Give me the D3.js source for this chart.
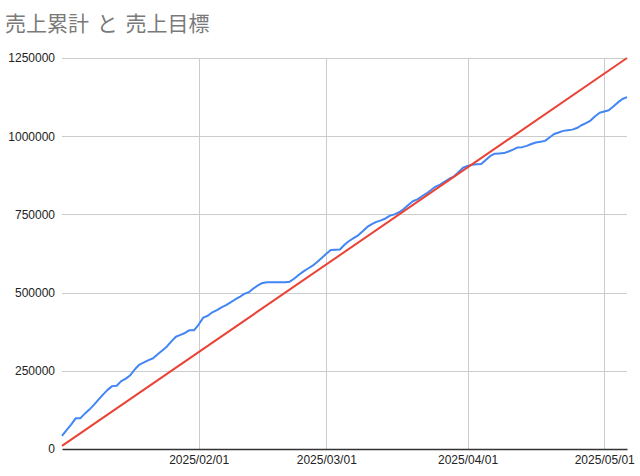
<!DOCTYPE html>
<html>
<head>
<meta charset="utf-8">
<script src="https://cdn.jsdelivr.net/npm/d3@7"></script>
<style>
  body { margin: 0; background: #fff; }
  text { font-family: "Liberation Sans", Arial, sans-serif; }
</style>
</head>
<body>
<div id="chart"></div>
<script>
let chartTitle = "売上累計 と 売上目標";

// daily cumulative sales, starting 2025/01/02
let startDate = "2025-01-02";
let salesValues = [
    42000, 60000, 78000, 98000, 98000, 113000, 126000, 141000, 158000, 174000,
    189000, 201000, 202000, 217000, 225000, 236000, 255000, 270000, 277000, 284000,
    290000, 303000, 315000, 327000, 344000, 359000, 365000, 371000, 380000, 380000,
    398000, 420000, 426000, 437000, 444000, 453000, 460000, 469000, 478000, 486000,
    496000, 501000, 513000, 523000, 531000, 533000, 533000, 533000, 533000, 533000,
    535000, 545000, 557000, 568000, 577000, 586000, 598000, 611000, 624000, 636000,
    637000, 638000, 653000, 665000, 674000, 683000, 696000, 710000, 719000, 726000,
    731000, 737000, 746000, 750000, 757000, 767000, 780000, 792000, 798000, 808000,
    817000, 828000, 839000, 845000, 855000, 864000, 871000, 885000, 899000, 905000,
    909000, 910000, 911000, 924000, 937000, 944000, 945000, 946000, 951000, 957000,
    964000, 965000, 969000, 975000, 980000, 982000, 985000, 996000, 1007000, 1012000,
    1017000, 1019000, 1021000, 1026000, 1035000, 1042000, 1050000, 1064000, 1075000, 1079000,
    1083000, 1095000, 1108000, 1119000, 1125000
];

// target line (straight)
let targetDates = ["2025-01-02", "2025-05-06"];
let targetValues = [10000, 1250000];

let yTicks = [0, 250000, 500000, 750000, 1000000, 1250000];
let xTicks = ["2025-02-01", "2025-03-01", "2025-04-01", "2025-05-01"];

let width = 640, height = 476;
let margin = {top: 58, right: 13, bottom: 27, left: 62};

let parse = d3.timeParse("%Y-%m-%d");
let fmt = d3.timeFormat("%Y/%m/%d");

let start = parse(startDate);
let sales = salesValues.map((v, i) => ({date: d3.timeDay.offset(start, i), value: v}));
let target = targetDates.map((d, i) => ({date: parse(d), value: targetValues[i]}));

let svg = d3.select("#chart")
    .append("svg")
    .attr("width", width)
    .attr("height", height);

let x = d3.scaleTime()
    .domain([start, parse(targetDates[1])])
    .range([margin.left, width - margin.right]);
let y = d3.scaleLinear()
    .domain([0, 1250000])
    .range([height - margin.bottom, margin.top]);

svg.append("text")
    .attr("x", 5)
    .attr("y", 31)
    .attr("fill", "#7a7a7a")
    .style("font-family", "'Noto Sans CJK JP', sans-serif")
    .style("font-size", "21px")
    .style("word-spacing", "3px")
    .text(chartTitle);

// horizontal grid
svg.append("g")
    .selectAll("line")
    .data(yTicks.filter(d => d > 0))
    .enter()
    .append("line")
    .attr("x1", margin.left)
    .attr("x2", width - margin.right)
    .attr("y1", d => Math.round(y(d)) + 0.5)
    .attr("y2", d => Math.round(y(d)) + 0.5)
    .attr("stroke", "#cccccc");

// vertical grid
svg.append("g")
    .selectAll("line")
    .data(xTicks.map(parse))
    .enter()
    .append("line")
    .attr("x1", d => Math.round(x(d)) + 0.5)
    .attr("x2", d => Math.round(x(d)) + 0.5)
    .attr("y1", margin.top)
    .attr("y2", height - margin.bottom)
    .attr("stroke", "#cccccc");

// y labels
let yAxis = d3.axisLeft(y).tickValues(yTicks).tickSize(0).tickPadding(7).tickFormat(d3.format("d"));
let yg = svg.append("g")
    .attr("transform", "translate(" + margin.left + ",0)")
    .call(yAxis);
yg.select(".domain").remove();
yg.selectAll("text").attr("fill", "#222").style("font-size", "12px");

// x axis
let xAxis = d3.axisBottom(x).tickValues(xTicks.map(parse)).tickSize(0).tickPadding(6).tickFormat(fmt);
let xg = svg.append("g")
    .attr("transform", "translate(0," + (height - margin.bottom) + ")")
    .call(xAxis);
xg.select(".domain").attr("stroke", "#333").attr("stroke-width", 1.5);
xg.selectAll("text").attr("fill", "#222").style("font-size", "12px");

let line = d3.line()
    .x(d => x(d.date))
    .y(d => y(d.value));

svg.append("path")
    .datum(sales)
    .attr("d", line)
    .attr("fill", "none")
    .attr("stroke", "#4285F4")
    .attr("stroke-width", 2)
    .attr("stroke-linejoin", "round");

svg.append("path")
    .datum(target)
    .attr("d", line)
    .attr("fill", "none")
    .attr("stroke", "#EA4335")
    .attr("stroke-width", 2);
</script>
</body>
</html>
